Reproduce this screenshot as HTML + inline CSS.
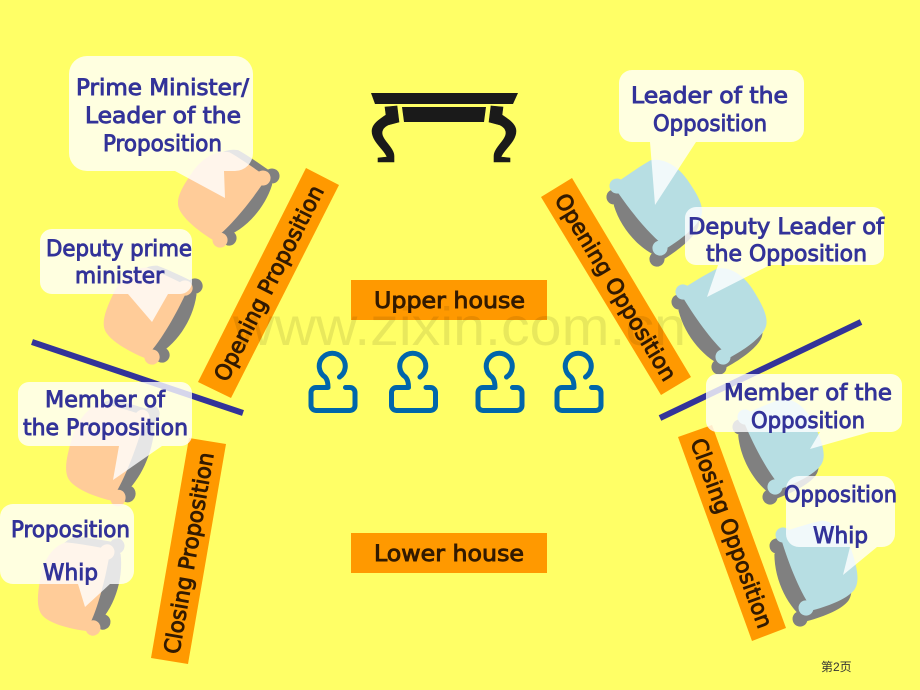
<!DOCTYPE html>
<html><head><meta charset="utf-8"><title>Debate layout</title>
<style>
html,body{margin:0;padding:0;background:#FFFF66;}
svg{display:block;}
.t{font-family:"DejaVu Sans","Liberation Sans",sans-serif;font-size:22px;fill:#333399;stroke:#333399;stroke-width:.9px;}
.o{font-family:"DejaVu Sans","Liberation Sans",sans-serif;font-size:22px;fill:#331a00;stroke:#331a00;stroke-width:.9px;}
</style></head><body>
<svg width="920" height="690" viewBox="0 0 920 690" xmlns="http://www.w3.org/2000/svg">
<defs>
<g id="pillow">
<path d="M5,-3 C20,-3 30,-3 42,-2 C54,3 61,18 61,35 C61,52 60,66 52,72 C44,78 25,80 6,79 C-1,60 -3,30 -3,7 Z"/>
<circle cx="0" cy="0" r="7.500"/><circle cx="0" cy="75" r="7.500"/>
</g>
<g id="shadow">
<path d="M5,-3 C20,-3 30,-3 42,-2 C54,3 61,18 61,35 C61,52 60,66 52,72 C44,78 25,80 6,79 C-8,62 -13,32 -5,7 Z"/>
<circle cx="0" cy="0" r="7.500"/><circle cx="0" cy="75" r="7.500"/>
</g>
<g id="person" fill="none" stroke="#0066AA" stroke-width="5" stroke-linecap="round" stroke-linejoin="round">
<path d="M339.5,377 A13 13 0 1 0 325,377 Q328,380 328,387.5 L316,387.5 A5 5 0 0 0 311,392.500 V405.500 A5 5 0 0 0 316,410.500 H350 A5 5 0 0 0 355,405.500 V392.500 A5 5 0 0 0 350,387.500 H345.500"/>
</g>
<g id="leg"><path stroke="#1a1a1a" stroke-width=".6" d="M385,107 L397,106 L399,122 L388,125 Q382,128 382,133 C382,140 394,148 394,156 L394,162 L378,162 L378,158 L387,157 C385,150 372,142 372,131 C372,124 380,119 386,115 Z"/></g>
</defs>
<rect width="920" height="690" fill="#FFFF66"/>

<!-- shadows -->
<g fill="#808080">
<use href="#shadow" transform="translate(9,-2) matrix(-.827,-.573,-.573,.827,263,178)"/>
<use href="#shadow" transform="translate(10,-2) matrix(-.92,-.44,-.44,.92,185,288)"/>
<use href="#shadow" transform="translate(10,-4) matrix(-.96,-.29,-.32,1.067,142,418)"/>
<use href="#shadow" transform="translate(10,-6) matrix(-.98,-.18,-.187,1.013,107,552)"/>
<use href="#shadow" transform="translate(-3,11) matrix(.827,-.573,.573,.827,617,186)"/>
<use href="#shadow" transform="translate(-4,10) matrix(.85,-.52,.533,.867,683,292)"/>
<use href="#shadow" transform="translate(-5,10) matrix(.92,-.39,.4,.933,745,417)"/>
<use href="#shadow" transform="translate(-6,11) matrix(.95,-.3,.307,.973,783,535)"/>
</g>
<g fill="#FFCC99">
<use href="#pillow" transform="matrix(-.827,-.573,-.573,.827,263,178)"/>
<use href="#pillow" transform="matrix(-.92,-.44,-.44,.92,185,288)"/>
<use href="#pillow" transform="matrix(-.96,-.29,-.32,1.067,142,418)"/>
<use href="#pillow" transform="matrix(-.98,-.18,-.187,1.013,107,552)"/>
</g>
<g fill="#B7DEE3">
<use href="#pillow" transform="matrix(.827,-.573,.573,.827,617,186)"/>
<use href="#pillow" transform="matrix(.85,-.52,.533,.867,683,292)"/>
<use href="#pillow" transform="matrix(.92,-.39,.4,.933,745,417)"/>
<use href="#pillow" transform="matrix(.95,-.3,.307,.973,783,535)"/>
</g>

<!-- divider lines -->
<line x1="32" y1="342" x2="243" y2="413" stroke="#333399" stroke-width="6"/>
<line x1="861" y1="322" x2="660" y2="418" stroke="#333399" stroke-width="6"/>

<!-- orange bars -->
<g fill="#FF9900">
<polygon points="306,168 339,185 231,398 198,382"/>
<polygon points="189,438 226,444 188,664 151,658"/>
<polygon points="572,178 691,377 661,395 541,197"/>
<polygon points="712,425 786,628 752,641 678,437"/>
<rect x="351" y="280" width="196" height="40"/>
<rect x="351" y="533" width="196" height="40"/>
</g>
<text class="o" transform="translate(268.500,283) rotate(-63.200)" x="-108" y="8" textLength="216" lengthAdjust="spacingAndGlyphs">Opening Proposition</text>
<text class="o" transform="translate(188.500,553) rotate(-80.200)" x="-102" y="8" textLength="204" lengthAdjust="spacingAndGlyphs">Closing Proposition</text>
<text class="o" transform="translate(616,287) rotate(59)" x="-107" y="8" textLength="214" lengthAdjust="spacingAndGlyphs">Opening Opposition</text>
<text class="o" transform="translate(732,533) rotate(70)" x="-100" y="8" textLength="200" lengthAdjust="spacingAndGlyphs">Closing Opposition</text>
<text class="o" x="374" y="308" textLength="151" lengthAdjust="spacingAndGlyphs">Upper house</text>
<text class="o" x="374" y="561" textLength="150" lengthAdjust="spacingAndGlyphs">Lower house</text>

<!-- table -->
<g fill="#1a1a1a">
<polygon points="371,93 518,93 513,104 375,104"/>
<polygon points="402,107 486,107 484,122 404,122"/>
<use href="#leg"/>
<use href="#leg" transform="matrix(-1,0,0,1,888,0)"/>
</g>

<!-- people -->
<use href="#person"/>
<use href="#person" transform="translate(80.500,0)"/>
<use href="#person" transform="translate(167,0)"/>
<use href="#person" transform="translate(246,0)"/>

<!-- speech bubbles -->
<g fill="#fff" fill-opacity=".8">
<path d="M87,56 H235 A18 18 0 0 1 253,74 V153 A18 18 0 0 1 235,171 H224 L225,198 L175,171 H87 A18 18 0 0 1 69,153 V74 A18 18 0 0 1 87,56 Z"/>
<path d="M52,229 H180 A12 12 0 0 1 192,241 V282 A12 12 0 0 1 180,294 H168 L152,322 L128,294 H52 A12 12 0 0 1 40,282 V241 A12 12 0 0 1 52,229 Z"/>
<path d="M29,382 H181 A11 11 0 0 1 192,393 V435 A11 11 0 0 1 181,446 H162 L113,480 L119,446 H29 A11 11 0 0 1 18,435 V393 A11 11 0 0 1 29,382 Z"/>
<path d="M13,504 H121 A13 13 0 0 1 134,517 V571 A13 13 0 0 1 121,584 H110 L85,607 L78,584 H13 A13 13 0 0 1 0,571 V517 A13 13 0 0 1 13,504 Z"/>
<path d="M632,70 H791 A13 13 0 0 1 804,83 V129 A13 13 0 0 1 791,142 H696 L655,205 L650,142 H632 A13 13 0 0 1 619,129 V83 A13 13 0 0 1 632,70 Z"/>
<path d="M696,207 H873 A11 11 0 0 1 884,218 V254 A11 11 0 0 1 873,265 H770 L707,297 L718,265 H696 A11 11 0 0 1 685,254 V218 A11 11 0 0 1 696,207 Z"/>
<path d="M717,374 H891 A11 11 0 0 1 902,385 V421 A11 11 0 0 1 891,432 H870 L810,449 L820,432 H717 A11 11 0 0 1 706,421 V385 A11 11 0 0 1 717,374 Z"/>
<path d="M799,476 H882 A13 13 0 0 1 895,489 V534 A13 13 0 0 1 882,547 H877 L843,575 L850,547 H799 A13 13 0 0 1 786,534 V489 A13 13 0 0 1 799,476 Z"/>
</g>

<!-- bubble text -->
<text class="t" x="76" y="95" textLength="173" lengthAdjust="spacingAndGlyphs">Prime Minister/</text>
<text class="t" x="85" y="123" textLength="156" lengthAdjust="spacingAndGlyphs">Leader of the</text>
<text class="t" x="103" y="151" textLength="119" lengthAdjust="spacingAndGlyphs">Proposition</text>
<text class="t" x="46" y="256" textLength="146" lengthAdjust="spacingAndGlyphs">Deputy prime</text>
<text class="t" x="75" y="283" textLength="89" lengthAdjust="spacingAndGlyphs">minister</text>
<text class="t" x="45" y="407" textLength="120" lengthAdjust="spacingAndGlyphs">Member of</text>
<text class="t" x="23" y="435" textLength="165" lengthAdjust="spacingAndGlyphs">the Proposition</text>
<text class="t" x="11" y="537" textLength="119" lengthAdjust="spacingAndGlyphs">Proposition</text>
<text class="t" x="43" y="580" textLength="55" lengthAdjust="spacingAndGlyphs">Whip</text>
<text class="t" x="631" y="103" textLength="157" lengthAdjust="spacingAndGlyphs">Leader of the</text>
<text class="t" x="653" y="131" textLength="114" lengthAdjust="spacingAndGlyphs">Opposition</text>
<text class="t" x="688" y="234" textLength="196" lengthAdjust="spacingAndGlyphs">Deputy Leader of</text>
<text class="t" x="706" y="261" textLength="161" lengthAdjust="spacingAndGlyphs">the Opposition</text>
<text class="t" x="724" y="400" textLength="168" lengthAdjust="spacingAndGlyphs">Member of the</text>
<text class="t" x="751" y="428" textLength="114" lengthAdjust="spacingAndGlyphs">Opposition</text>
<text class="t" x="784" y="502" textLength="113" lengthAdjust="spacingAndGlyphs">Opposition</text>
<text class="t" x="813" y="543" textLength="55" lengthAdjust="spacingAndGlyphs">Whip</text>

<!-- watermark -->
<text x="233" y="345" font-family="Liberation Sans, sans-serif" font-size="54" fill="#000" fill-opacity=".09" textLength="453" lengthAdjust="spacingAndGlyphs">www.zixin.com.cn</text>

<!-- page number -->
<text x="821" y="671" font-family="Liberation Sans, Noto Sans CJK SC, sans-serif" font-size="12" fill="#333">第2页</text>
</svg>
</body></html>
